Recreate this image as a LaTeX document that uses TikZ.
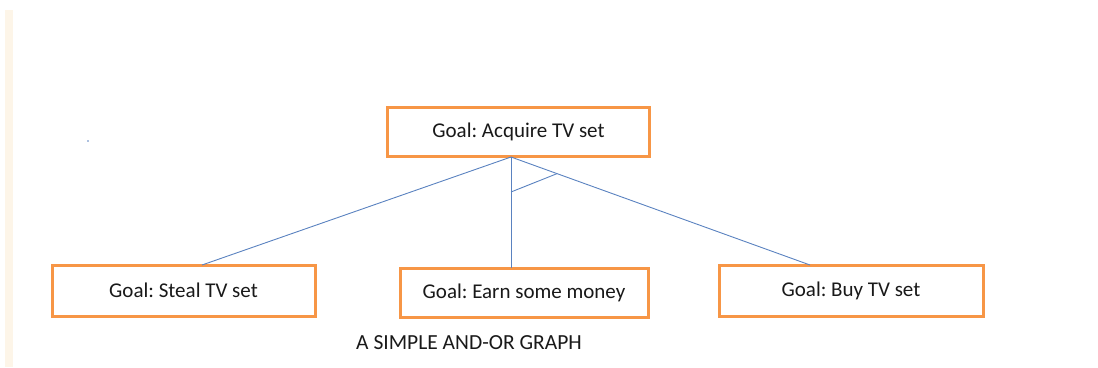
\documentclass[tikz,border=0pt]{standalone}
\usepackage{fontspec}
\setmainfont{Carlito}
\usetikzlibrary{calc}
\definecolor{boxorange}{HTML}{F79646}
\definecolor{linkblue}{HTML}{5A82C0}
\definecolor{barbeige}{HTML}{FDF5E8}
\frenchspacing
\begin{document}
\begin{tikzpicture}[x=1pt,y=-1pt,
  goalbox/.style={draw=boxorange,line width=3pt,fill=white,inner sep=0pt,font=\fontsize{21}{24}\selectfont,text=black!90},
  link/.style={draw=linkblue,line width=0.9pt}]
\useasboundingbox (0,0) rectangle (1098,367);
\fill[barbeige] (5,10) rectangle (13,367);
\fill[linkblue] (88,141) circle (0.9);
\node[goalbox,minimum width=262,minimum height=49] (top) at (518.5,131.5) {Goal: Acquire TV set};
\node[goalbox,minimum width=263,minimum height=51] (steal) at (183.5,290.5) {Goal: Steal TV set};
\node[goalbox,minimum width=248,minimum height=49] (earn) at (524,292.5) {Goal: Earn some money};
\node[goalbox,minimum width=264,minimum height=51] (buy) at (851,290.5) {Goal: Buy TV set};
\coordinate (apex) at (511,157);
\coordinate (stealin) at (202,265);
\coordinate (earnin) at (511,268);
\coordinate (buyin) at (810,265);
\draw[link] (apex) -- (stealin);
\draw[link] (apex) -- (earnin);
\draw[link] (apex) -- (buyin);
\coordinate (andA) at (511,192);
\coordinate (andB) at ($(apex)!0.154!(buyin)$);
\draw[link] (andA) -- (andB);
\node[font=\fontsize{21.5}{24}\selectfont,text=black!90] (cap) at (469,343) {A SIMPLE AND-OR GRAPH};
\end{tikzpicture}
\end{document}
